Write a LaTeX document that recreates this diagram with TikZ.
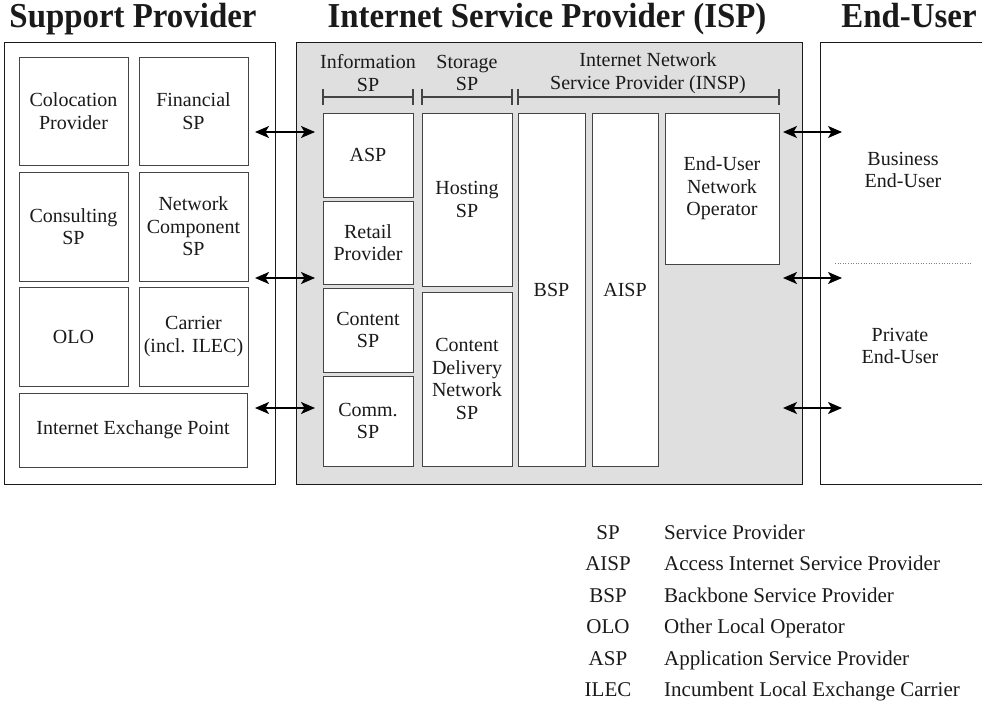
\documentclass[tikz,border=0pt]{standalone}
\usepackage{fontspec}
\setmainfont{Liberation Serif}
\usetikzlibrary{arrows.meta}

% rectangle node given by its corners: name, x1, y1, x2, y2, options, text
\newcommand{\cornerbox}[7]{%
  \pgfmathsetmacro\cbw{#4-#2}\pgfmathsetmacro\cbh{#5-#3}%
  \node[#6, minimum width=\cbw pt, minimum height=\cbh pt] (#1)
    at ({(#2+#4)/2},{(#3+#5)/2}) {#7};}

\definecolor{ink}{HTML}{1A1A1A}
\definecolor{edge}{HTML}{444444}
\definecolor{ispfill}{HTML}{DFDFDF}

\tikzset{
  unit/.style={draw=edge, line width=0.9pt, fill=white, inner sep=0pt, outer sep=0pt,
    align=center, text=ink, font=\fontsize{20}{22.5}\selectfont},
  frame/.style={draw=ink, line width=0.9pt, inner sep=0pt, outer sep=0pt},
  title/.style={text=ink, font=\fontsize{35}{38}\selectfont\bfseries, inner sep=0pt, anchor=base},
  label/.style={text=ink, align=center, inner sep=0pt, font=\fontsize{20}{22.5}\selectfont},
  legend/.style={text=ink, inner sep=0pt, font=\fontsize{21}{24}\selectfont, anchor=base},
  biarrow/.style={{Stealth[length=14pt,width=12pt,inset=3.5pt]}-{Stealth[length=14pt,width=12pt,inset=3.5pt]},
    line width=1.4pt, draw=black},
  span/.style={line width=1.4pt, draw=edge},
}

\begin{document}
\begin{tikzpicture}[x=1pt, y=-1pt]
\useasboundingbox (0,0) rectangle (982,703);

% headings
\node[title] (tsp)  at (133,28) {\scalebox{0.94}[1]{Support Provider}};
\node[title] (tisp) at (547,28) {\scalebox{0.94}[1]{Internet Service Provider (ISP)}};
\node[title] (teu)  at (909,28) {\scalebox{0.94}[1]{End-User}};

% three domains
\cornerbox{support}{4}{42}{275}{484}{frame, fill=white}{}
\cornerbox{isp}{296}{42}{802}{484}{frame, fill=ispfill}{}
\cornerbox{enduser}{820}{42}{995}{484}{frame, fill=white}{}

% support providers
\cornerbox{coloc}{19}{57}{128}{165}{unit}{Colocation\\Provider}
\cornerbox{fin}{139}{57}{248}{165}{unit}{Financial\\SP}
\cornerbox{consult}{19}{172}{128}{281}{unit}{Consulting\\SP}
\cornerbox{netcomp}{139}{172}{248}{281}{unit}{Network\\Component\\SP}
\cornerbox{olo}{19}{287}{128}{386}{unit}{OLO}
\cornerbox{carrier}{139}{287}{248}{386}{unit}{Carrier\\(incl. ILEC)}
\cornerbox{ixp}{19}{393}{247}{467}{unit}{Internet Exchange Point}

% ISP groups with their spans
\node[label] (linfo) at (368,73) {Information\\SP};
\node[label] (lstor) at (467,73) {Storage\\SP};
\node[label] (linsp) at (648,73) {Internet Network\\Service Provider (INSP)};
\coordinate (infoA) at (323,97); \coordinate (infoB) at (413,97);
\coordinate (storA) at (422,97); \coordinate (storB) at (512,97);
\coordinate (inspA) at (518,97); \coordinate (inspB) at (779,97);
\foreach \a/\b in {infoA/infoB, storA/storB, inspA/inspB}{
  \draw[span] (\a) -- (\b);
  \draw[span] ([yshift=8pt]\a) -- ([yshift=-8pt]\a);
  \draw[span] ([yshift=8pt]\b) -- ([yshift=-8pt]\b);
}

\cornerbox{asp}{323}{113}{413}{197}{unit}{ASP}
\cornerbox{retail}{323}{201}{413}{284}{unit}{Retail\\Provider}
\cornerbox{content}{323}{288}{413}{372}{unit}{Content\\SP}
\cornerbox{comm}{323}{376}{413}{466}{unit}{Comm.\\SP}
\cornerbox{hosting}{422}{113}{512}{286}{unit}{Hosting\\SP}
\cornerbox{cdn}{422}{292}{512}{466}{unit}{Content\\Delivery\\Network\\SP}
\cornerbox{bsp}{518}{113}{585}{466}{unit}{BSP}
\cornerbox{aisp}{592}{113}{658}{466}{unit}{AISP}
\cornerbox{euno}{665}{113}{779}{264}{unit}{End-User\\Network\\Operator}

% end-users
\node[label] (business) at (903,170) {Business\\End-User};
\node[label] (private)  at (900,346) {Private\\End-User};
\coordinate (sepA) at (835,263); \coordinate (sepB) at (972,263);
\draw[dotted, draw=gray, line width=0.6pt] (sepA) -- (sepB);

% links between the domains
\coordinate (l1a) at (255,132); \coordinate (l1b) at (315,132);
\coordinate (l2a) at (255,278); \coordinate (l2b) at (315,278);
\coordinate (l3a) at (255,408); \coordinate (l3b) at (315,408);
\coordinate (r1a) at (783,132); \coordinate (r1b) at (842,132);
\coordinate (r2a) at (783,278); \coordinate (r2b) at (842,278);
\coordinate (r3a) at (783,408); \coordinate (r3b) at (842,408);
\draw[biarrow] (l1a) -- (l1b);
\draw[biarrow] (l2a) -- (l2b);
\draw[biarrow] (l3a) -- (l3b);
\draw[biarrow] (r1a) -- (r1b);
\draw[biarrow] (r2a) -- (r2b);
\draw[biarrow] (r3a) -- (r3b);

% abbreviations
\foreach \ab/\full/\yy [count=\i] in {
  SP/Service Provider/539,
  AISP/Access Internet Service Provider/570,
  BSP/Backbone Service Provider/602,
  OLO/Other Local Operator/633,
  ASP/Application Service Provider/665,
  ILEC/Incumbent Local Exchange Carrier/696}{
  \node[legend] (ab\i) at (608,\yy) {\ab};
  \node[legend, anchor=base west] (full\i) at (664,\yy) {\full};
}
\end{tikzpicture}
\end{document}
